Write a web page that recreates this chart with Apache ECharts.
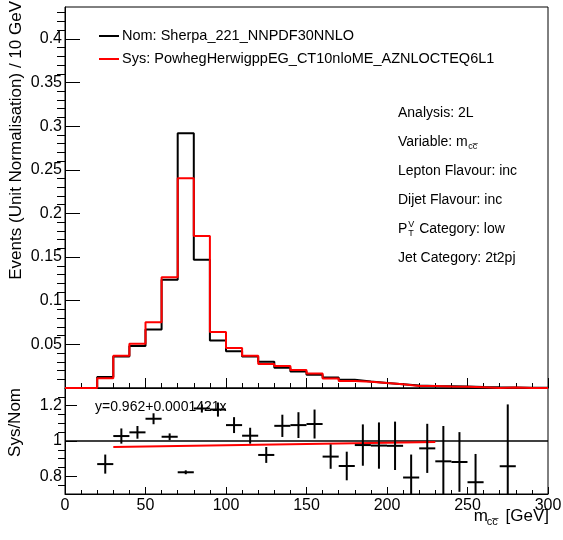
<!DOCTYPE html>
<html>
<head>
<meta charset="utf-8">
<script src="https://cdn.jsdelivr.net/npm/echarts@6/dist/echarts.min.js"></script>
<style>
  html, body { margin: 0; padding: 0; background: #fff; }
  #main { width: 563px; height: 540px; }
</style>
</head>
<body>
<div id="main"></div>
<script>
// m_cc distribution, 10 GeV bins (lower edges)
const binLow = [0, 10, 20, 30, 40, 50, 60, 70, 80, 90,
                100, 110, 120, 130, 140, 150, 160, 170, 180, 190,
                200, 210, 220, 230, 240, 250, 260, 270, 280, 290];
const binWidth = 10;

// Nominal: Sherpa_221_NNPDF30NNLO (unit normalised)
const nomValues = [0, 0, 0.0127, 0.0360, 0.0482, 0.0670, 0.1240, 0.2920, 0.1470, 0.0545,
                   0.0420, 0.0360, 0.0300, 0.0233, 0.0190, 0.0152, 0.0120, 0.0094, 0.0074, 0.0058,
                   0.0044, 0.0030, 0.0024, 0.0020, 0.0016, 0.0012, 0.0009, 0.0007, 0.0004, 0.0003];

// Systematic: PowhegHerwigppEG_CT10nloME_AZNLOCTEQ6L1 (unit normalised)
const sysValues = [0, 0, 0.01104, 0.03701, 0.05056, 0.07544, 0.12698, 0.24032, 0.17405, 0.06420,
                   0.04578, 0.03708, 0.02763, 0.02530, 0.02071, 0.01666, 0.01094, 0.00807, 0.00723, 0.00565,
                   0.00428, 0.00238, 0.00230, 0.00177, 0.00141, 0.00092, 0, 0.00060, 0, 0];

// Statistical uncertainty on Sys/Nom per bin
const ratioErrors = [0, 0, 0.054, 0.043, 0.036, 0.031, 0.019, 0.011, 0.023, 0.040,
                     0.045, 0.045, 0.045, 0.063, 0.073, 0.082, 0.069, 0.081, 0.117, 0.131,
                     0.137, 0.130, 0.139, 0.200, 0.169, 0.160, 0, 0.350, 0, 0];

// Linear fit to the ratio
const fitIntercept = 0.962;
const fitSlope = 0.0001421;
const fitRange = [30, 230];

// Axis tick labels
const xTickLabels = [0, 50, 100, 150, 200, 250, 300];
const yTickLabels = [0.05, 0.1, 0.15, 0.2, 0.25, 0.3, 0.35, 0.4];
const ratioTickLabels = [0.8, 1, 1.2];

const yMax = 0.4365;
const ratioMin = 0.7, ratioMax = 1.3;

const FONT = "'Liberation Sans', Arial, Helvetica, sans-serif";
const RED = '#ff0000';

function stepPoints(vals) {
  const pts = [];
  for (let i = 0; i < vals.length; i++) {
    pts.push([binLow[i], vals[i]]);
    pts.push([binLow[i] + binWidth, vals[i]]);
  }
  return pts;
}

// minor tick positions between labelled ticks
function minorBetween(lo, hi, step, majors) {
  const out = [];
  for (let v = lo; v <= hi + 1e-9; v += step) {
    const r = Math.round(v * 1000) / 1000;
    if (!majors.some(m => Math.abs(m - r) < 1e-6)) out.push(r);
  }
  return out;
}

const ratioPoints = [];
for (let i = 0; i < binLow.length; i++) {
  if (nomValues[i] > 0 && sysValues[i] > 0) {
    ratioPoints.push([binLow[i] + binWidth / 2, sysValues[i] / nomValues[i], ratioErrors[i],
                      binLow[i], binLow[i] + binWidth]);
  }
}

const measureCtx = document.createElement('canvas').getContext('2d');
function textWidth(str, size) {
  measureCtx.font = size + 'px ' + FONT;
  return measureCtx.measureText(str).width;
}

const chart = echarts.init(document.getElementById('main'), null, { renderer: 'canvas' });

const grids = [
  { left: 65, top: 7, width: 483, height: 381, show: true, borderColor: '#000', borderWidth: 1, outerBoundsMode: 'none' },
  { left: 65, top: 388, width: 483, height: 106, show: true, borderColor: '#000', borderWidth: 1, outerBoundsMode: 'none' }
];

const xAxisBase = {
  type: 'value', min: 0, max: 300, interval: 50,
  axisLine: { show: true, onZero: false, lineStyle: { color: '#000', width: 1 } },
  splitLine: { show: false },
  minorTick: { show: true, splitNumber: 5, length: 5, lineStyle: { color: '#000', width: 1 } }
};

const xAxes = [
  Object.assign({}, xAxisBase, {
    gridIndex: 0,
    axisLabel: { show: false },
    axisTick: { show: true, inside: true, length: 10, lineStyle: { color: '#000', width: 1 } }
  }),
  Object.assign({}, xAxisBase, {
    gridIndex: 1,
    axisLabel: { show: true, color: '#000', fontSize: 16, fontFamily: FONT, margin: 4,
                 formatter: v => xTickLabels.indexOf(v) >= 0 ? String(v) : '' },
    axisTick: { show: true, inside: true, length: 7, lineStyle: { color: '#000', width: 1 } },
    minorTick: { show: true, splitNumber: 5, length: 4, lineStyle: { color: '#000', width: 1 } }
  })
];

const yMinorTop = minorBetween(0.01, 0.43, 0.01, [0].concat(yTickLabels));
const ratioMinor = minorBetween(0.75, 1.25, 0.05, ratioTickLabels);

const yAxes = [
  { // main histogram axis: labels and major ticks
    type: 'value', gridIndex: 0, min: 0, max: yMax,
    axisLine: { show: true, onZero: false, lineStyle: { color: '#000', width: 1 } },
    splitLine: { show: false },
    axisTick: { show: true, inside: true, length: 15, customValues: yTickLabels, lineStyle: { color: '#000', width: 1 } },
    axisLabel: { show: true, color: '#000', fontSize: 16, fontFamily: FONT, margin: 3, customValues: yTickLabels,
                 formatter: v => String(+v.toFixed(2)) }
  },
  { // minor ticks
    type: 'value', gridIndex: 0, min: 0, max: yMax,
    axisLine: { show: false }, splitLine: { show: false },
    axisTick: { show: true, inside: true, length: 8, customValues: yMinorTop, lineStyle: { color: '#000', width: 1 } },
    axisLabel: { show: false }
  },
  { // ratio axis
    type: 'value', gridIndex: 1, min: ratioMin, max: ratioMax,
    axisLine: { show: true, onZero: false, lineStyle: { color: '#000', width: 1 } },
    splitLine: { show: false },
    axisTick: { show: true, inside: true, length: 12, customValues: ratioTickLabels, lineStyle: { color: '#000', width: 1 } },
    axisLabel: { show: true, color: '#000', fontSize: 16, fontFamily: FONT, margin: 3, customValues: ratioTickLabels,
                 formatter: v => String(+v.toFixed(1)) }
  },
  { // ratio minor ticks
    type: 'value', gridIndex: 1, min: ratioMin, max: ratioMax,
    axisLine: { show: false }, splitLine: { show: false },
    axisTick: { show: true, inside: true, length: 7, customValues: ratioMinor, lineStyle: { color: '#000', width: 1 } },
    axisLabel: { show: false }
  }
];

function renderCross(params, api) {
  const cs = params.coordSys;
  const yTop = cs.y, yBot = cs.y + cs.height;
  const clampY = y => Math.max(yTop, Math.min(yBot, y));
  const xc = api.value(0), r = api.value(1), e = api.value(2);
  const pC = api.coord([xc, r]);
  const pL = api.coord([api.value(3), r]);
  const pR = api.coord([api.value(4), r]);
  const pU = api.coord([xc, r + e]);
  const pD = api.coord([xc, r - e]);
  const style = { stroke: '#000', lineWidth: 2 };
  const children = [];
  if (pC[1] >= yTop && pC[1] <= yBot) {
    children.push({ type: 'line', shape: { x1: pL[0], y1: pC[1], x2: pR[0], y2: pC[1] }, style: style });
  }
  children.push({ type: 'line', shape: { x1: pC[0], y1: clampY(pU[1]), x2: pC[0], y2: clampY(pD[1]) }, style: style });
  return { type: 'group', children: children };
}

const series = [
  {
    name: 'Nom', type: 'line', xAxisIndex: 0, yAxisIndex: 0,
    data: stepPoints(nomValues), showSymbol: false, symbol: 'none', animation: false,
    lineStyle: { color: '#000', width: 2 }, z: 3
  },
  {
    name: 'Sys', type: 'line', xAxisIndex: 0, yAxisIndex: 0,
    data: stepPoints(sysValues), showSymbol: false, symbol: 'none', animation: false,
    lineStyle: { color: RED, width: 2 }, z: 4
  },
  {
    name: 'unity', type: 'line', xAxisIndex: 1, yAxisIndex: 2,
    data: [[0, 1], [300, 1]], showSymbol: false, symbol: 'none', animation: false,
    lineStyle: { color: '#000', width: 1.5 }, z: 3
  },
  {
    name: 'fit', type: 'line', xAxisIndex: 1, yAxisIndex: 2,
    data: fitRange.map(x => [x, fitIntercept + fitSlope * x]), showSymbol: false, symbol: 'none', animation: false,
    lineStyle: { color: RED, width: 2 }, z: 4
  },
  {
    name: 'ratio', type: 'custom', xAxisIndex: 1, yAxisIndex: 2,
    data: ratioPoints, renderItem: renderCross, animation: false, z: 5
  }
];

// text annotations
const infoSize = 14;
const infoX = 398;
const infoRows = [113, 142, 171, 200, 229, 258];
const txt = (x, y, s, size, extra) => Object.assign({
  type: 'text', x: x, y: y, z: 100,
  style: Object.assign({ text: s, fill: '#000', font: size + 'px ' + FONT,
                         align: 'left', verticalAlign: 'middle',
                         textAlign: 'left', textVerticalAlign: 'middle' }, extra || {})
}, {});

const graphics = [];
// legend
graphics.push({ type: 'line', z: 100, shape: { x1: 99, y1: 36, x2: 119, y2: 36 }, style: { stroke: '#000', lineWidth: 2 } });
graphics.push(txt(122, 36, 'Nom: Sherpa_221_NNPDF30NNLO', 14.5));
graphics.push({ type: 'line', z: 100, shape: { x1: 99, y1: 59, x2: 119, y2: 59 }, style: { stroke: RED, lineWidth: 2 } });
graphics.push(txt(122, 59, 'Sys: PowhegHerwigppEG_CT10nloME_AZNLOCTEQ6L1', 14.5));

// analysis information
graphics.push(txt(infoX, infoRows[0], 'Analysis: 2L', infoSize));
const varStr = 'Variable: m';
graphics.push(txt(infoX, infoRows[1], varStr, infoSize));
graphics.push(txt(infoX + textWidth(varStr, infoSize) + 0.5, infoRows[1] + 5, 'cc\u0305', 9));
graphics.push(txt(infoX, infoRows[2], 'Lepton Flavour: inc', infoSize));
graphics.push(txt(infoX, infoRows[3], 'Dijet Flavour: inc', infoSize));
const pW = textWidth('P', infoSize);
graphics.push(txt(infoX, infoRows[4], 'P', infoSize));
graphics.push(txt(infoX + pW + 1, infoRows[4] - 4, 'V', 9));
graphics.push(txt(infoX + pW + 1, infoRows[4] + 5, 'T', 9));
graphics.push(txt(infoX + pW + 8, infoRows[4], ' Category: low', infoSize));
graphics.push(txt(infoX, infoRows[5], 'Jet Category: 2t2pj', infoSize));

// fit result
graphics.push(txt(95, 407.5, 'y=' + fitIntercept + '+' + fitSlope + 'x', 14));

// axis titles
graphics.push({ type: 'text', x: 16, y: 1, rotation: Math.PI / 2, z: 100,
  style: { text: 'Events (Unit Normalisation) / 10 GeV', fill: '#000', font: '17px ' + FONT,
           align: 'right', verticalAlign: 'middle', textAlign: 'right', textVerticalAlign: 'middle' } });
graphics.push({ type: 'text', x: 15, y: 388, rotation: Math.PI / 2, z: 100,
  style: { text: 'Sys/Nom', fill: '#000', font: '17px ' + FONT,
           align: 'right', verticalAlign: 'middle', textAlign: 'right', textVerticalAlign: 'middle' } });
const xtY = 516;
graphics.push(txt(549, xtY, '[GeV]', 17, { align: 'right', textAlign: 'right' }));
const gevW = textWidth(' [GeV]', 17);
graphics.push(txt(549 - gevW - 14, xtY + 6, 'cc\u0305', 11));
graphics.push(txt(549 - gevW - 14 - textWidth('m', 17) + 1, xtY, 'm', 17));

chart.setOption({
  animation: false,
  backgroundColor: '#fff',
  textStyle: { fontFamily: FONT },
  grid: grids,
  xAxis: xAxes,
  yAxis: yAxes,
  series: series,
  graphic: graphics
});
</script>
</body>
</html>
